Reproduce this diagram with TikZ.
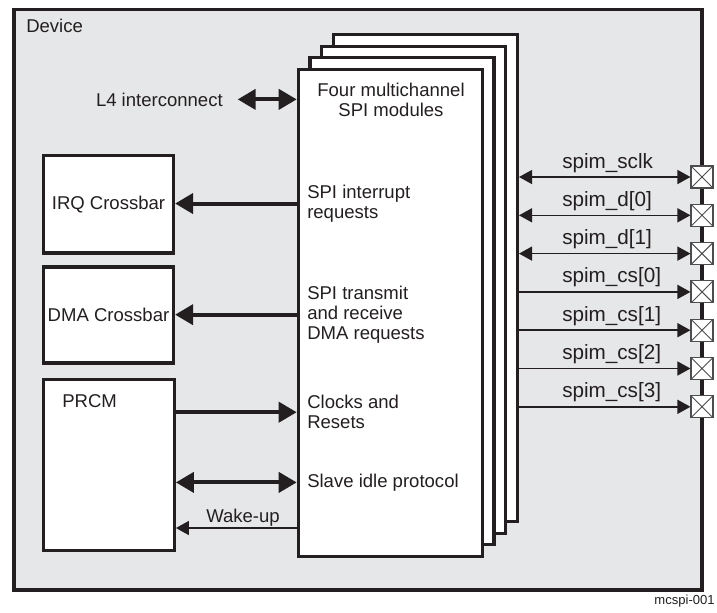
\documentclass[tikz,border=0pt]{standalone}
\usepackage{fontspec}
\setmainfont{Liberation Sans}
\usetikzlibrary{arrows.meta,fit}
\definecolor{ink}{HTML}{231F20}
\definecolor{devfill}{HTML}{E6E7E8}
\definecolor{padgray}{HTML}{4D4D4F}
\begin{document}
\begin{tikzpicture}[x=0.75pt,y=-0.75pt,
  font=\fontsize{13.9}{15.2}\selectfont, text=ink,
  devbox/.style={draw=ink, line width=2.7pt, fill=devfill, inner sep=0pt},
  box/.style={draw=ink, line width=2.4pt, fill=white, inner sep=0pt},
  lbl/.style={inner sep=0pt, align=left},
  bigarrow/.style={draw=ink, line width=3pt, -{Triangle[length=13.5pt,width=15pt]}},
  bigdbl/.style={draw=ink, line width=3pt, {Triangle[length=13.5pt,width=15pt]}-{Triangle[length=13.5pt,width=15pt]}},
  thinarrow/.style={draw=ink, line width=1.2pt, -{Triangle[length=9.8pt,width=10.5pt]}},
  thindbl/.style={draw=ink, line width=1.2pt, {Triangle[length=9.8pt,width=10.5pt]}-{Triangle[length=9.8pt,width=10.5pt]}},
  padbox/.style={draw=padgray, line width=0.8pt, fill=white, minimum size=16.5pt, inner sep=0pt,
    path picture={\draw[padgray, line width=0.7pt]
      (path picture bounding box.north west) -- (path picture bounding box.south east)
      (path picture bounding box.north east) -- (path picture bounding box.south west);}},
  spimlbl/.style={inner sep=0pt, font=\fontsize{15.5}{18}\selectfont, anchor=base west},
]
\useasboundingbox (0,0) rectangle (717,612);

% device
\node[devbox, fit={(14,9.5) (702,590)}] (device) {};
\node[inner sep=0pt, anchor=base west] (devlbl) at (26,32) {Device};

% stacked SPI modules
\node[box, fit={(333.4,34.4) (517.4,521.4)}] (back3) {};
\node[box, fit={(321.7,46.1) (505.7,533.1)}] (back2) {};
\node[box, fit={(310,57.8) (494,544.8)}] (back1) {};
\node[box, fit={(298.3,69.5) (482.3,556.5)}] (front) {};

% left boxes
\node[box, fit={(43.5,155.7) (173.5,253)}] (irq) {};
\node[box, fit={(43.5,267) (173.5,363)}] (dma) {};
\node[box, fit={(43.5,379.7) (174.3,550.5)}] (prcm) {};
\node[inner sep=0pt] (irqlbl) at (irq.center) {IRQ Crossbar};
\node[inner sep=0pt] (dmalbl) at (dma.center) {DMA Crossbar};
\node[inner sep=0pt, anchor=base west] (prcmlbl) at (62,407) {PRCM};

% texts in module
\node[lbl, align=center, anchor=north] (title) at (391,82.5) {Four multichannel\\SPI modules};
\node[lbl, anchor=north west] (int) at (307,184.5) {SPI interrupt\\requests};
\node[lbl, anchor=north west] (dmat) at (307,285.5) {SPI transmit\\and receive\\DMA requests};
\node[lbl, anchor=north west] (clk) at (307,395) {Clocks and\\Resets};
\node[lbl, anchor=north west] (slave) at (307,473.5) {Slave idle protocol};

% L4 interconnect
\node[inner sep=0pt, anchor=base east] (l4) at (223,106) {L4 interconnect};
\draw[bigdbl] ([xshift=11pt]l4.east) -- (front.west |- l4.east);

% left connectors
\draw[bigarrow] (front.west |- int) -- (irq.east |- int);
\draw[bigarrow] (front.west |- dmat) -- (dma.east |- dmat);
\draw[bigarrow] (prcm.east |- clk) -- (front.west |- clk);
\draw[bigdbl] (prcm.east |- slave) -- (front.west |- slave);
\node[inner sep=0pt, anchor=base] (wake) at (243,522) {Wake-up};
\coordinate (wk) at (243,528);
\draw[thinarrow] (front.west |- wk) -- (prcm.east |- wk);

% pads
\node[padbox] (p1) at (702,177) {};
\node[padbox] (p2) at (702,215.3) {};
\node[padbox] (p3) at (702,253.6) {};
\node[padbox] (p4) at (702,291.9) {};
\node[padbox] (p5) at (702,330.2) {};
\node[padbox] (p6) at (702,368.5) {};
\node[padbox] (p7) at (702,406.8) {};

\draw[thindbl] (back3.east |- p1) -- (p1.west);
\draw[thindbl] (back3.east |- p2) -- (p2.west);
\draw[thindbl] (back3.east |- p3) -- (p3.west);
\draw[thinarrow] (back3.east |- p4) -- (p4.west);
\draw[thinarrow] (back3.east |- p5) -- (p5.west);
\draw[thinarrow] (back3.east |- p6) -- (p6.west);
\draw[thinarrow] (back3.east |- p7) -- (p7.west);

\node[spimlbl] (s1) at (562,168) {spim\_sclk};
\node[spimlbl] (s2) at (562,206.3) {spim\_d[0]};
\node[spimlbl] (s3) at (562,244.6) {spim\_d[1]};
\node[spimlbl] (s4) at (562,282.9) {spim\_cs[0]};
\node[spimlbl] (s5) at (562,321.2) {spim\_cs[1]};
\node[spimlbl] (s6) at (562,359.5) {spim\_cs[2]};
\node[spimlbl] (s7) at (562,397.8) {spim\_cs[3]};

\node[inner sep=0pt, anchor=base east, font=\fontsize{9.8}{11}\selectfont] (fig) at (715,604) {mcspi-001};
\end{tikzpicture}
\end{document}
